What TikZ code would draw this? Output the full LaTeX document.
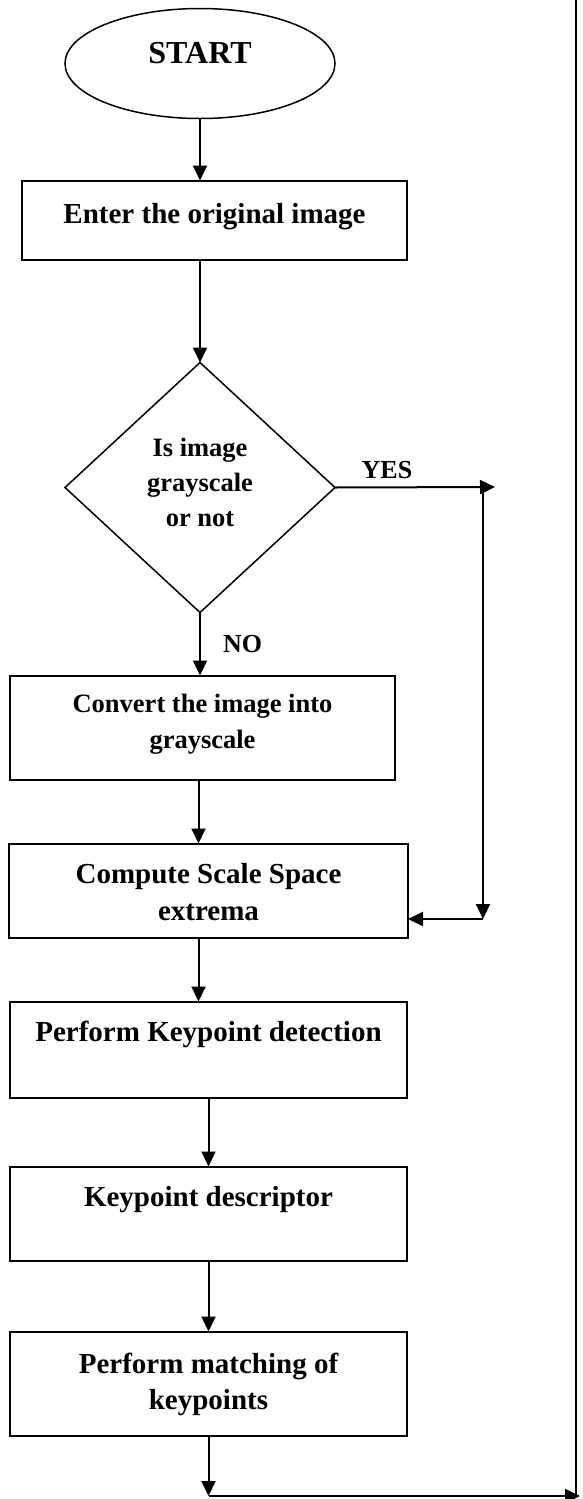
\documentclass[tikz,border=0pt]{standalone}
\usepackage{fontspec}
\setmainfont{Liberation Serif}
\usetikzlibrary{positioning,shapes.geometric,arrows.meta}
\newcommand{\BoxFont}{\fontsize{29}{36.5}\selectfont\bfseries}
\newcommand{\SmallFont}{\fontsize{26.5}{36}\selectfont\bfseries}

\tikzset{
  flowline/.style={line width=2pt, -{Triangle[length=15pt,width=14pt]}},
  plainline/.style={line width=2pt},
  procbox/.style={draw, rectangle, line width=2pt, inner sep=0pt, outer sep=0pt, minimum width=397pt},
  boxtext/.style={anchor=north, yshift=-20pt, align=center, inner sep=0pt, font=\BoxFont},
  answer/.style={inner sep=0pt, font=\fontsize{26}{30}\selectfont\bfseries},
}

\begin{document}
\begin{tikzpicture}[x=1pt,y=-1pt]
		\useasboundingbox (0,0) rectangle (583,1499);

		% Define nodes
		\node[draw, ellipse, line width=1.5pt, inner sep=0pt, outer sep=0pt,
		      minimum width=270pt, minimum height=110pt,
		      text height=21pt, text depth=21pt, font=\fontsize{32}{38}\selectfont\bfseries] (start) at (200,63.5) {START};
		\node[procbox, minimum width=385pt, minimum height=79pt, below=62pt of start, xshift=14.5pt,
		      label={[boxtext, yshift=-3pt]north:Enter the original image}] (enter) {};
		\node[draw, diamond, aspect=1.08, line width=1.5pt, inner sep=0pt, outer sep=0pt,
		      minimum width=270pt, minimum height=250pt, below=103pt of enter, xshift=-14.5pt,
		      label={[boxtext, yshift=-55pt, font=\fontsize{26.5}{35}\selectfont\bfseries]north:{Is image\\grayscale\\or not}}] (gray) {};
		\node[procbox, minimum width=385pt, minimum height=104pt, below=63pt of gray, xshift=2.5pt,
		      label={[boxtext, yshift=2pt, font=\SmallFont]north:{Convert the image into\\grayscale}}] (conv) {};
		\node[procbox, minimum width=399pt, minimum height=94pt, below=64pt of conv, xshift=6pt,
		      label={[boxtext]north:{Compute Scale Space\\extrema}}] (comp) {};
		\node[procbox, minimum height=96pt, below=64pt of comp,
		      label={[boxtext, yshift=1pt]north:Perform Keypoint detection}] (detect) {};
		\node[procbox, minimum height=94pt, below=69pt of detect,
		      label={[boxtext]north:Keypoint descriptor}] (desc) {};
		\node[procbox, minimum height=104pt, below=71pt of desc,
		      label={[boxtext, yshift=-1pt]north:{Perform matching of\\keypoints}}] (match) {};

		\coordinate (yes) at (495,487);
		\coordinate (join) at (483,919);
		\coordinate (corner) at (208.5,1496);
		\coordinate (rightend) at (580,1496);
		\coordinate (top) at (576,-3);

		% Connect the nodes
		\draw[flowline] (start.south) -- (start.south |- enter.north);
		\draw[flowline] (gray.north |- enter.south) -- (gray.north);
		\draw[flowline] (gray.east) -- node[answer, anchor=south, pos=0.325, yshift=8pt] {YES} (yes);
		\draw[flowline] (join |- yes) -- (join);
		\draw[flowline] (join) -- (join -| comp.east);
		\draw[flowline] (gray.south) -- node[answer, anchor=base west, pos=0.635, xshift=22pt] {NO} (gray.south |- conv.north);
		\draw[flowline] ([xshift=-4pt]conv.south) -- ([xshift=-4pt]conv.south |- comp.north);
		\draw[flowline] ([xshift=-10pt]comp.south) -- ([xshift=-10pt]comp.south |- detect.north);
		\draw[flowline] (detect.south) -- (desc.north);
		\draw[flowline] (desc.south) -- (match.north);
		\draw[flowline] (match.south) -- (match.south |- corner);
		\draw[flowline] (corner) -- (rightend);
		\draw[plainline] (top) -- (top |- corner);
	\end{tikzpicture}
\end{document}
